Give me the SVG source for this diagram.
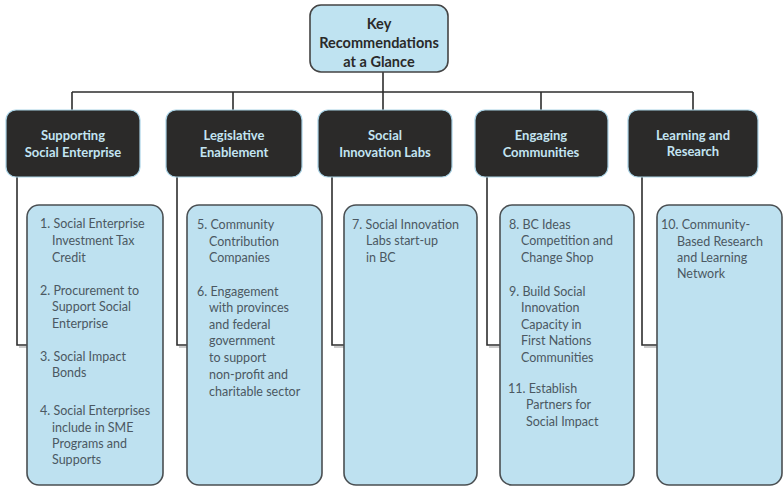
<svg xmlns="http://www.w3.org/2000/svg" width="784" height="489" viewBox="0 0 784 489">
<defs>
<style>
.bg{fill:#ffffff}
.top{fill:#bfe3f1;stroke:#444;stroke-width:1.6}
.dark{fill:#2b2a29;stroke:#a9d3e6;stroke-width:1.2}
.light{fill:#bee1f0;stroke:#4a4f52;stroke-width:1.6}
.conn{fill:none;stroke:#2e2e2e;stroke-width:1.6}
.connsh{fill:none;stroke:#9a9a9a;stroke-width:1.2}
.tt{font-family:Lato,"Open Sans","Liberation Sans",sans-serif;font-weight:bold;font-size:14.5px;fill:#2a2a2a;text-anchor:middle}
.dt{font-family:Lato,"Open Sans","Liberation Sans",sans-serif;font-weight:bold;font-size:13px;fill:#c3e4f2;text-anchor:middle}
.lt{font-family:Lato,"Open Sans","Liberation Sans",sans-serif;font-size:12.5px;fill:#4b5862}
</style>
</defs>
<rect class="bg" x="0" y="0" width="784" height="489"/>
<g id="connectors">
<path class="conn" d="M383 72V92M72 92H693M72 92V110M233 92V110M383 92V110M541 92V110M693 92V110"/>
<path class="connsh" d="M19 347H27M179 347H187M334 347H344M489 347H500M644 347H657"/>
<path class="conn" d="M17 177V345H27M177 177V345H187M332 177V345H344M487 177V345H500M642 177V345H657"/>
</g>
<g id="root">
<rect class="top" x="310" y="5" width="138" height="67" rx="11"/>
<text class="tt" x="379" y="29">Key</text>
<text class="tt" x="379" y="48">Recommendations</text>
<text class="tt" x="379" y="67">at a Glance</text>
</g>
<g id="cat1">
<rect class="dark" x="6" y="110" width="134" height="67" rx="10"/>
<text class="dt" x="73" y="140">Supporting</text>
<text class="dt" x="73" y="157">Social Enterprise</text>
</g>
<g id="cat2">
<rect class="dark" x="166" y="110" width="136" height="67" rx="10"/>
<text class="dt" x="234" y="140">Legislative</text>
<text class="dt" x="234" y="157">Enablement</text>
</g>
<g id="cat3">
<rect class="dark" x="318" y="110" width="134" height="67" rx="10"/>
<text class="dt" x="385" y="140">Social</text>
<text class="dt" x="385" y="157">Innovation Labs</text>
</g>
<g id="cat4">
<rect class="dark" x="475" y="110" width="133" height="67" rx="10"/>
<text class="dt" x="541" y="140">Engaging</text>
<text class="dt" x="541" y="157">Communities</text>
</g>
<g id="cat5">
<rect class="dark" x="628" y="110" width="130" height="67" rx="10"/>
<text class="dt" x="693" y="140">Learning and</text>
<text class="dt" x="693" y="156">Research</text>
</g>
<g id="list1">
<rect class="light" x="27" y="205" width="136" height="280" rx="12"/>
<text class="lt" x="40" y="228">1. Social Enterprise</text>
<text class="lt" x="52" y="245">Investment Tax</text>
<text class="lt" x="52" y="262">Credit</text>
<text class="lt" x="40" y="295">2. Procurement to</text>
<text class="lt" x="52" y="311">Support Social</text>
<text class="lt" x="52" y="328">Enterprise</text>
<text class="lt" x="40" y="361">3. Social Impact</text>
<text class="lt" x="52" y="377">Bonds</text>
<text class="lt" x="40" y="415">4. Social Enterprises</text>
<text class="lt" x="52" y="432">include in SME</text>
<text class="lt" x="52" y="448">Programs and</text>
<text class="lt" x="52" y="464">Supports</text>
</g>
<g id="list2">
<rect class="light" x="187" y="205" width="135" height="280" rx="12"/>
<text class="lt" x="197" y="229">5. Community</text>
<text class="lt" x="209" y="246">Contribution</text>
<text class="lt" x="209" y="262">Companies</text>
<text class="lt" x="197" y="296">6. Engagement</text>
<text class="lt" x="209" y="312">with provinces</text>
<text class="lt" x="209" y="329">and federal</text>
<text class="lt" x="209" y="345">government</text>
<text class="lt" x="209" y="362">to support</text>
<text class="lt" x="209" y="379">non-profit and</text>
<text class="lt" x="209" y="396">charitable sector</text>
</g>
<g id="list3">
<rect class="light" x="344" y="205" width="133" height="280" rx="12"/>
<text class="lt" x="352" y="229">7. Social Innovation</text>
<text class="lt" x="366" y="245">Labs start-up</text>
<text class="lt" x="366" y="262">in BC</text>
</g>
<g id="list4">
<rect class="light" x="500" y="205" width="134" height="280" rx="12"/>
<text class="lt" x="509" y="229">8. BC Ideas</text>
<text class="lt" x="521" y="245">Competition and</text>
<text class="lt" x="521" y="262">Change Shop</text>
<text class="lt" x="509" y="296">9. Build Social</text>
<text class="lt" x="521" y="312">Innovation</text>
<text class="lt" x="521" y="329">Capacity in</text>
<text class="lt" x="521" y="345">First Nations</text>
<text class="lt" x="521" y="362">Communities</text>
<text class="lt" x="508" y="393">11. Establish</text>
<text class="lt" x="526" y="409">Partners for</text>
<text class="lt" x="526" y="426">Social Impact</text>
</g>
<g id="list5">
<rect class="light" x="657" y="205" width="125" height="280" rx="12"/>
<text class="lt" x="661" y="229">10. Community-</text>
<text class="lt" x="677" y="246">Based Research</text>
<text class="lt" x="677" y="262">and Learning</text>
<text class="lt" x="677" y="278">Network</text>
</g>
</svg>
